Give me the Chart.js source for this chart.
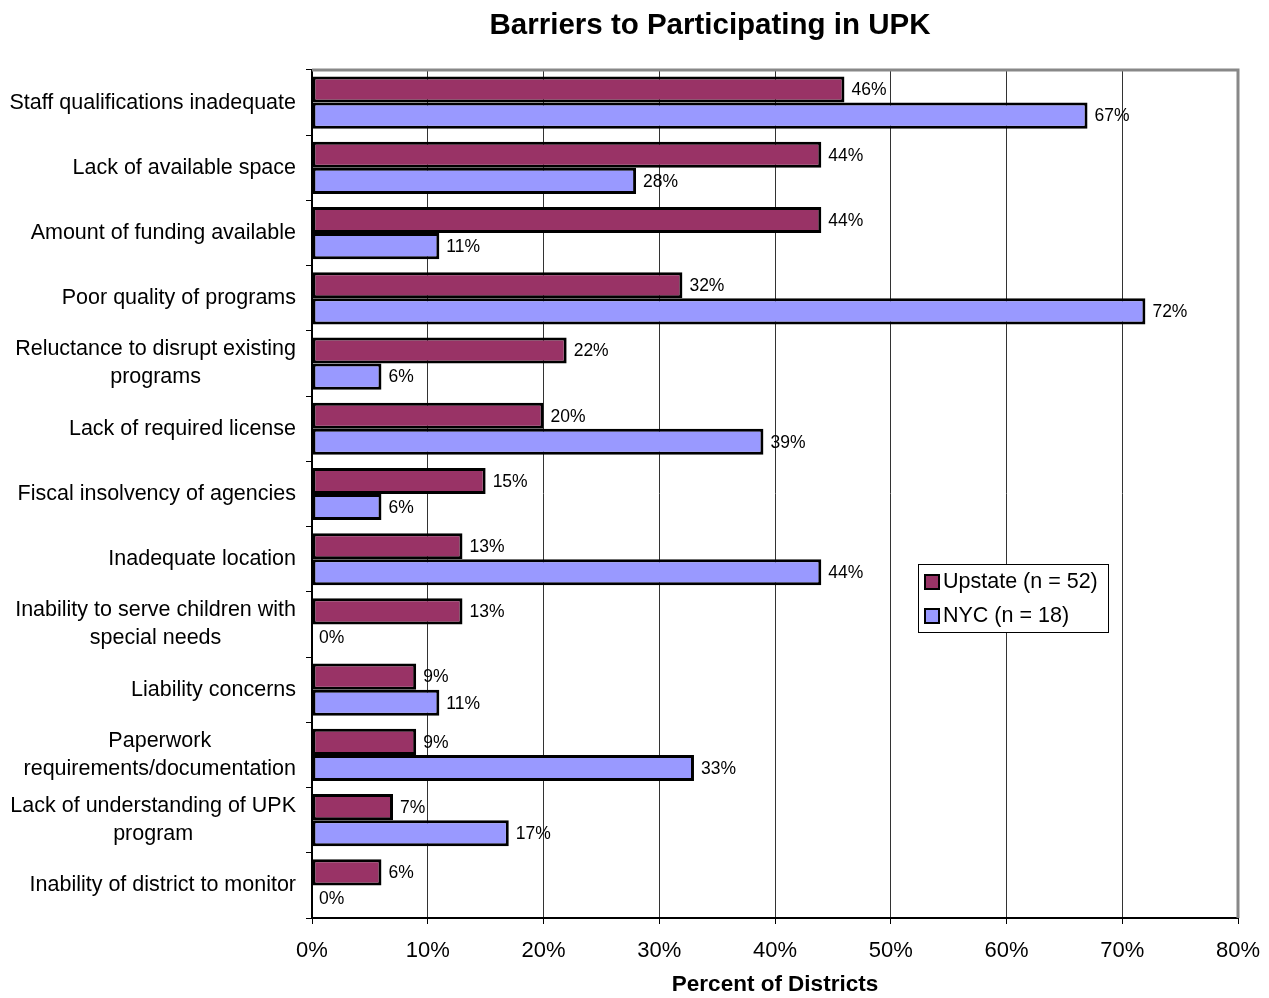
<!DOCTYPE html>
<html>
<head>
<meta charset="utf-8">
<script src="https://cdn.jsdelivr.net/npm/chart.js@4.4.1/dist/chart.umd.min.js"></script>
<style>
  html, body { margin: 0; padding: 0; background: #fff; }
  #wrap { width: 1269px; height: 998px; position: relative; }
</style>
</head>
<body>
<div id="wrap"><canvas id="upk-chart"></canvas></div>
<script>
const categories = [
  'Staff qualifications inadequate',
  'Lack of available space',
  'Amount of funding available',
  'Poor quality of programs',
  ['Reluctance to disrupt existing', 'programs'],
  'Lack of required license',
  'Fiscal insolvency of agencies',
  'Inadequate location',
  ['Inability to serve children with', 'special needs'],
  'Liability concerns',
  ['Paperwork', 'requirements/documentation'],
  ['Lack of understanding of UPK', 'program'],
  'Inability of district to monitor'
];
const upstateValues = [46, 44, 44, 32, 22, 20, 15, 13, 13, 9, 9, 7, 6];
const nycValues = [67, 28, 11, 72, 6, 39, 6, 44, 0, 11, 33, 17, 0];
const seriesLabels = ['Upstate (n = 52)', 'NYC (n = 18)'];
const xTicks = [0, 10, 20, 30, 40, 50, 60, 70, 80];

const FONT = 'Liberation Sans, Arial, sans-serif';

// titel, rand, categorielabels, waardelabels en legenda
const extras = {
  id: 'extras',
  afterDatasetsDraw(chart) {
    const ctx = chart.ctx;
    const area = chart.chartArea;
    ctx.save();

    // grijze rand boven en rechts
    ctx.strokeStyle = '#888';
    ctx.lineWidth = 3;
    ctx.beginPath();
    ctx.moveTo(area.left, area.top);
    ctx.lineTo(area.right, area.top);
    ctx.lineTo(area.right, area.bottom);
    ctx.stroke();

    // categorielabels: rechts uitgelijnd blok, regels gecentreerd
    const yScale = chart.scales.y;
    ctx.fillStyle = '#000';
    ctx.font = '21.5px ' + FONT;
    ctx.textBaseline = 'middle';
    ctx.textAlign = 'center';
    categories.forEach((cat, i) => {
      const lines = Array.isArray(cat) ? cat : [cat];
      const w = Math.max(...lines.map((l) => ctx.measureText(l).width));
      const cx = 296 - w / 2;
      const cy = yScale.getPixelForValue(i);
      const lh = 28;
      lines.forEach((l, k) => {
        ctx.fillText(l, cx, cy + (k - (lines.length - 1) / 2) * lh);
      });
    });

    // waardelabels
    ctx.font = '17.5px ' + FONT;
    ctx.textAlign = 'left';
    chart.data.datasets.forEach((ds, i) => {
      chart.getDatasetMeta(i).data.forEach((bar, j) => {
        ctx.fillText(ds.data[j] + '%', bar.x + 7, bar.y + 1);
      });
    });

    // titel
    ctx.font = 'bold 29.5px ' + FONT;
    ctx.textAlign = 'center';
    ctx.fillText('Barriers to Participating in UPK', 710, 26);

    // legenda
    const lx = 918, ly = 564, lw = 190, lh = 68;
    ctx.fillStyle = '#fff';
    ctx.fillRect(lx, ly, lw, lh);
    ctx.strokeStyle = '#000';
    ctx.lineWidth = 1;
    ctx.strokeRect(lx + 0.5, ly + 0.5, lw, lh);
    ctx.font = '21.5px ' + FONT;
    ctx.textAlign = 'left';
    chart.data.datasets.forEach((ds, i) => {
      const yy = ly + 18 + i * 34;
      ctx.fillStyle = ds.backgroundColor;
      ctx.fillRect(lx + 7, yy - 7, 14, 14);
      ctx.strokeStyle = '#000';
      ctx.lineWidth = 2;
      ctx.strokeRect(lx + 7, yy - 7, 14, 14);
      ctx.fillStyle = '#000';
      ctx.fillText(ds.label, lx + 25, yy);
    });
    ctx.restore();
  }
};

new Chart(document.getElementById('upk-chart'), {
  type: 'bar',
  data: {
    labels: categories,
    datasets: [
      {
        label: seriesLabels[0],
        data: upstateValues,
        backgroundColor: '#993366',
        borderColor: '#000',
        borderWidth: 3,
        borderSkipped: false,
        categoryPercentage: 0.8,
        barPercentage: 1.0
      },
      {
        label: seriesLabels[1],
        data: nycValues,
        backgroundColor: '#9999FF',
        borderColor: '#000',
        borderWidth: 3,
        borderSkipped: false,
        categoryPercentage: 0.8,
        barPercentage: 1.0
      }
    ]
  },
  options: {
    indexAxis: 'y',
    responsive: true,
    maintainAspectRatio: false,
    animation: false,
    layout: { padding: { left: 0, top: 70, right: 31, bottom: 0 } },
    plugins: {
      legend: { display: false },
      title: { display: false },
      tooltip: { enabled: false }
    },
    scales: {
      x: {
        min: 0,
        max: 80,
        afterBuildTicks: (scale) => {
          scale.ticks = xTicks.map((v) => ({ value: v }));
        },
        afterFit: (scale) => {
          scale.height = 80;
          scale.paddingLeft = 0;
          scale.paddingRight = 0;
        },
        ticks: {
          color: '#000',
          font: { family: FONT, size: 22 },
          padding: 14,
          callback: (v) => v + '%'
        },
        grid: { color: '#333', lineWidth: 1, tickLength: 6, tickColor: '#000' },
        border: { color: '#000', width: 2 },
        title: {
          display: true,
          text: 'Percent of Districts',
          color: '#000',
          font: { family: FONT, size: 22.5, weight: 'bold' },
          padding: { top: 0, bottom: 0 }
        }
      },
      y: {
        afterFit: (scale) => {
          scale.width = 312;
          scale.paddingTop = 0;
          scale.paddingBottom = 0;
        },
        ticks: { display: false, autoSkip: false },
        grid: { drawOnChartArea: false, offset: true, tickLength: 6, color: '#000' },
        border: { color: '#000', width: 2 }
      }
    }
  },
  plugins: [extras]
});
</script>
</body>
</html>
